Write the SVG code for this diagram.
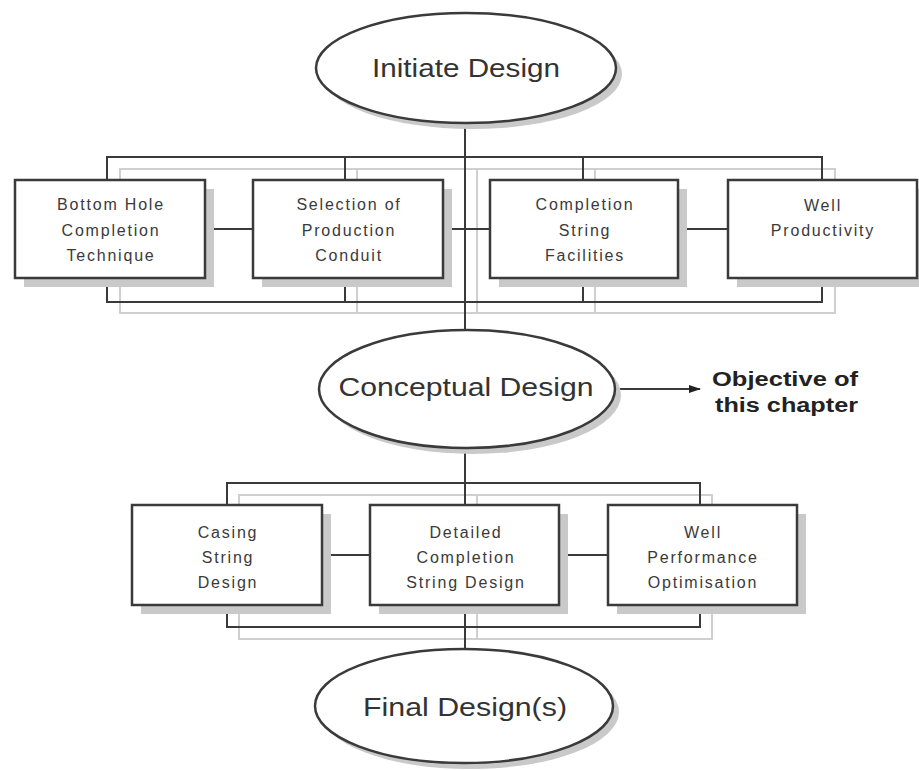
<svg xmlns="http://www.w3.org/2000/svg" width="919" height="770" viewBox="0 0 919 770">
<style>
.ln{stroke:#3a3a3a;stroke-width:2;fill:none}
.lt{stroke:#cfcfcf;stroke-width:2;fill:none}
.box{fill:#fff;stroke:#3a3a3a;stroke-width:2.5}
.sh{fill:#c9c9c9}
.ell{fill:#fff;stroke:#3a3a3a;stroke-width:2.5}
.t{font-family:"Liberation Sans",Arial,sans-serif;font-size:16px;fill:#3a3a3a;text-anchor:middle;letter-spacing:1.8px}
.big{font-family:"Liberation Sans",Arial,sans-serif;font-size:26px;fill:#333;text-anchor:middle}
.bold{font-family:"Liberation Sans",Arial,sans-serif;font-size:20px;font-weight:bold;fill:#222}
</style>
<defs>
<marker id="ah" markerWidth="12" markerHeight="8" refX="11" refY="4" orient="auto" markerUnits="userSpaceOnUse">
<path d="M0,0 L12,4 L0,8 z" fill="#222"/>
</marker>
</defs>
<rect width="919" height="770" fill="#fff"/>
<g id="connectors">
<rect class="lt" x="120" y="169" width="715" height="144"/>
<line class="lt" x1="357" y1="169" x2="357" y2="313"/>
<line class="lt" x1="595" y1="169" x2="595" y2="313"/>
<line class="lt" x1="477" y1="169" x2="477" y2="313"/>
<rect class="ln" x="107" y="157" width="715" height="145"/>
<line class="ln" x1="345" y1="157" x2="345" y2="302"/>
<line class="ln" x1="583" y1="157" x2="583" y2="302"/>
<line class="ln" x1="465" y1="123" x2="465" y2="331"/>
<line class="ln" x1="205" y1="229" x2="253" y2="229"/>
<line class="ln" x1="443" y1="229" x2="490" y2="229"/>
<line class="ln" x1="678" y1="229" x2="728" y2="229"/>
<rect class="lt" x="239" y="495" width="473" height="144"/>
<line class="lt" x1="477" y1="495" x2="477" y2="639"/>
<rect class="ln" x="227" y="483" width="473" height="144"/>
<line class="ln" x1="465" y1="447" x2="465" y2="649"/>
<line class="ln" x1="322" y1="555" x2="370" y2="555"/>
<line class="ln" x1="559" y1="555" x2="608" y2="555"/>
<line class="ln" x1="615" y1="389" x2="700" y2="389" marker-end="url(#ah)"/>
</g>
<g id="initiate">
<ellipse class="sh" cx="472" cy="74" rx="150" ry="55"/>
<ellipse class="ell" cx="466" cy="68" rx="150" ry="55"/>
<text class="big" x="466" y="77" textLength="188" lengthAdjust="spacingAndGlyphs">Initiate Design</text>
</g>
<g id="bottomhole">
<rect class="sh" x="24" y="189" width="190" height="98"/>
<rect class="box" x="15" y="180" width="190" height="98"/>
<text class="t" x="111" y="210">Bottom Hole</text>
<text class="t" x="111" y="236">Completion</text>
<text class="t" x="111" y="261">Technique</text>
</g>
<g id="selection">
<rect class="sh" x="262" y="189" width="190" height="98"/>
<rect class="box" x="253" y="180" width="190" height="98"/>
<text class="t" x="349" y="210">Selection of</text>
<text class="t" x="349" y="236">Production</text>
<text class="t" x="349" y="261">Conduit</text>
</g>
<g id="completionstring">
<rect class="sh" x="499" y="189" width="188" height="98"/>
<rect class="box" x="490" y="180" width="188" height="98"/>
<text class="t" x="585" y="210">Completion</text>
<text class="t" x="585" y="236">String</text>
<text class="t" x="585" y="261">Facilities</text>
</g>
<g id="wellproductivity">
<rect class="sh" x="737" y="189" width="182" height="98"/>
<rect class="box" x="728" y="180" width="189" height="98"/>
<text class="t" x="823" y="211">Well</text>
<text class="t" x="823" y="236">Productivity</text>
</g>
<g id="conceptual">
<ellipse class="sh" cx="473" cy="395" rx="148" ry="59"/>
<ellipse class="ell" cx="467" cy="389" rx="148" ry="59"/>
<text class="big" x="466" y="396" textLength="255" lengthAdjust="spacingAndGlyphs">Conceptual Design</text>
</g>
<g id="objective">
<text class="bold" x="712" y="386" textLength="146" lengthAdjust="spacingAndGlyphs">Objective of</text>
<text class="bold" x="715" y="412" textLength="143" lengthAdjust="spacingAndGlyphs">this chapter</text>
</g>
<g id="casing">
<rect class="sh" x="141" y="514" width="190" height="100"/>
<rect class="box" x="132" y="505" width="190" height="100"/>
<text class="t" x="228" y="538">Casing</text>
<text class="t" x="228" y="563">String</text>
<text class="t" x="228" y="588">Design</text>
</g>
<g id="detailed">
<rect class="sh" x="379" y="514" width="189" height="100"/>
<rect class="box" x="370" y="505" width="189" height="100"/>
<text class="t" x="466" y="538">Detailed</text>
<text class="t" x="466" y="563">Completion</text>
<text class="t" x="466" y="588">String Design</text>
</g>
<g id="wellperformance">
<rect class="sh" x="617" y="514" width="189" height="100"/>
<rect class="box" x="608" y="505" width="189" height="100"/>
<text class="t" x="703" y="538">Well</text>
<text class="t" x="703" y="563">Performance</text>
<text class="t" x="703" y="588">Optimisation</text>
</g>
<g id="final">
<ellipse class="sh" cx="470" cy="712" rx="149" ry="57"/>
<ellipse class="ell" cx="464" cy="706" rx="149" ry="57"/>
<text class="big" x="465" y="716" textLength="204" lengthAdjust="spacingAndGlyphs">Final Design(s)</text>
</g>
</svg>
